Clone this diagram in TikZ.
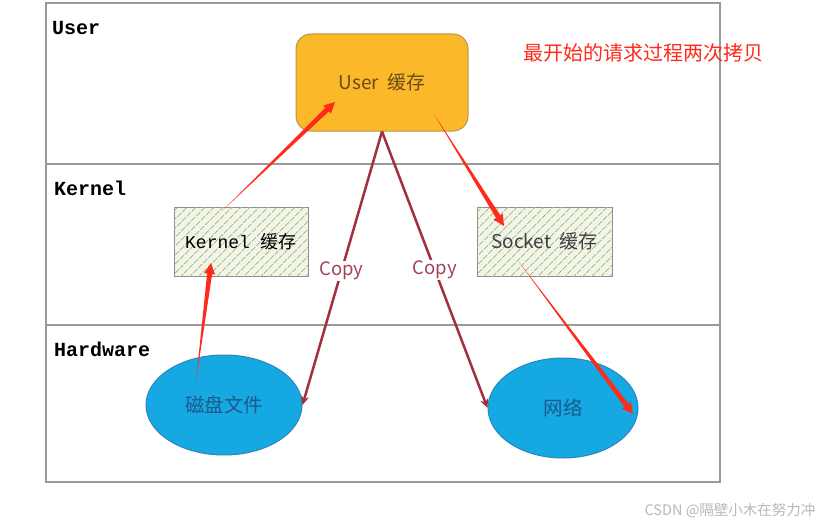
\documentclass[tikz,border=0pt]{standalone}
\usepackage{fontspec}
\setmainfont{Liberation Sans}
\newfontfamily\cjk{Noto Sans CJK SC}
\newfontfamily\monob{Liberation Mono}
\usetikzlibrary{calc,shapes.geometric,arrows.meta,patterns.meta}
\definecolor{framegray}{HTML}{9A9A9A}
\definecolor{userfill}{HTML}{FBB829}
\definecolor{userdraw}{HTML}{B8954A}
\definecolor{usertext}{HTML}{6B4A1A}
\definecolor{hatchfill}{HTML}{F1F5E6}
\definecolor{hatchline}{HTML}{A9B595}
\definecolor{boxdraw}{HTML}{8E8E8E}
\definecolor{ellfill}{HTML}{16A8E3}
\definecolor{elldraw}{HTML}{2C86B8}
\definecolor{elltext}{HTML}{1B5A8A}
\definecolor{copyred}{HTML}{A2303E}
\definecolor{copytext}{HTML}{A0445A}
\definecolor{brightred}{HTML}{FF2A1A}
\definecolor{wmgray}{HTML}{B8B8B8}
\newcommand{\taper}[3]{%
  \coordinate (tpc) at ($(#2)!11pt!(#1)$);
  \fill[brightred] (#1) -- ($(tpc)!#3!90:(#2)$) -- ($(tpc)!#3!-90:(#2)$) -- cycle;
  \fill[brightred] (#2) -- ($(tpc)!5.5pt!90:(#2)$) -- ($(tpc)!5.5pt!-90:(#2)$) -- cycle;
}
\begin{document}
\begin{tikzpicture}[x=1pt,y=-1pt,
  layerlabel/.style={font=\monob\bfseries\fontsize{20}{22}\selectfont, anchor=west, inner sep=0pt},
  hatchbox/.style={draw=boxdraw, line width=1pt, minimum width=134pt, minimum height=69pt,
     fill=hatchfill, postaction={pattern={Lines[angle=45,distance=6.5pt,line width=0.9pt]}, pattern color=hatchline}},
  hw/.style={ellipse, draw=elldraw, line width=1pt, fill=ellfill, text=elltext,
     font=\cjk\fontsize{19.5}{21}\selectfont},
  copyarrow/.style={draw=copyred, line width=2.5pt, -{Stealth[length=9pt,width=8pt]}},
  copylabel/.style={fill=white, text=copytext, font=\cjk\fontsize{18.5}{20}\selectfont, inner sep=1pt}
]
\useasboundingbox (0,0) rectangle (830,527);
\fill[white] (0,0) rectangle (830,527);
% frame
\draw[framegray, line width=2pt] (46,3) rectangle (720,482);
\draw[framegray, line width=1.5pt] (46,164) -- (720,164);
\draw[framegray, line width=1.5pt] (46,325) -- (720,325);
\node[layerlabel] (luser) at (52,28) {User};
\node[layerlabel] (lkernel) at (54,188) {Kernel};
\node[layerlabel] (lhw) at (54,349) {Hardware};
% nodes
\node[draw=userdraw, line width=1pt, fill=userfill, rounded corners=15pt,
  minimum width=172pt, minimum height=97pt, text=usertext,
  font=\cjk\fontsize{19}{21}\selectfont] (user) at (382,82.5) {User\ \ 缓存};
\node[hatchbox] (kernel) at (241,241.5) {\monob\fontsize{18}{20}\selectfont Kernel\ {\cjk 缓存}};
\node[hatchbox, minimum width=135pt, font=\cjk\fontsize{19}{21}\selectfont, text=black!75] (socket) at (544.5,241.5) {Socket\ \ 缓存};
\node[hw, minimum width=156pt, minimum height=100pt] (disk) at (224,405) {磁盘文件};
\node[hw, minimum width=150pt, minimum height=100pt] (net) at (563,408) {网络};
% copy arrows
\draw[copyarrow] (user.south) -- node[copylabel, pos=0.51]{Copy} (disk.east);
\draw[copyarrow] (user.south) -- node[copylabel, pos=0.5]{Copy} (net.west);
% red arrows
\coordinate (r1s) at (196,381);
\coordinate (r1e) at (211,263);
\coordinate (r2s) at (222,211);
\coordinate (r2e) at (335,102);
\coordinate (r3s) at (434,114);
\coordinate (r3e) at (504,226);
\coordinate (r4s) at (519,262);
\coordinate (r4e) at (633,414);
\taper{r1s}{r1e}{2.5pt}
\taper{r2s}{r2e}{2.5pt}
\taper{r3s}{r3e}{2.5pt}
\taper{r4s}{r4e}{2.5pt}
% title
\node[text=brightred, font=\cjk\fontsize{20}{22}\selectfont] (title) at (643,53) {最开始的请求过程两次拷贝};
\node[text=wmgray, font=\cjk\fontsize{14.5}{16}\selectfont, anchor=east] (wm) at (819,511) {CSDN @隔壁小木在努力冲};
\end{tikzpicture}
\end{document}
